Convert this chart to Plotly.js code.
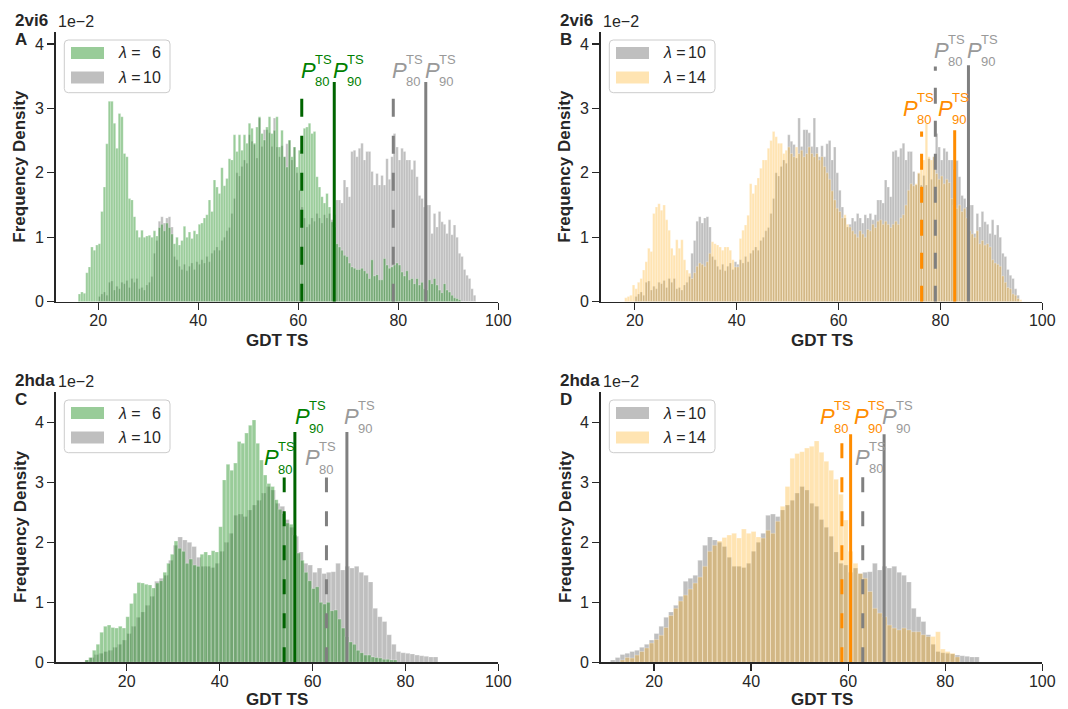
<!DOCTYPE html>
<html>
<head>
<meta charset="utf-8">
<script src="https://cdn.plot.ly/plotly-3.0.1.min.js"></script>
<style>
  html, body { margin: 0; padding: 0; background: #fff; }
  #chart { width: 1068px; height: 709px; }
</style>
</head>
<body>
<div id="chart"></div>
<script>
// GDT TS frequency-density histograms for targets 2vi6 and 2hda at several lambda values.
// Densities are in units of 1e-2.

const binStart2vi6 = 16.0;
const binWidth2vi6 = 0.5;
const density2vi6Lambda6 = [
  0.12,0.15,0.13,0.45,0.54,0.85,0.80,0.88,0.90,1.40,
  1.78,2.45,3.11,3.11,2.77,2.38,2.92,2.87,2.30,2.25,
  1.60,1.58,1.32,1.11,1.00,1.11,1.00,1.02,1.03,1.00,
  1.10,1.02,1.15,1.20,1.10,1.22,1.15,1.05,0.90,1.00,
  0.88,0.95,1.17,1.00,1.08,0.98,1.10,1.05,1.20,1.22,
  1.30,1.35,1.58,1.40,1.89,1.78,1.68,2.08,1.80,1.91,
  2.22,2.20,2.59,2.33,2.59,2.35,2.59,2.46,2.77,2.69,
  2.46,2.71,2.87,2.61,2.51,2.71,2.87,2.61,2.66,2.87,
  2.40,2.66,2.25,2.09,2.51,2.25,2.40,2.09,2.35,2.30,
  2.69,2.71,2.77,2.61,2.64,1.94,1.78,1.63,1.53,1.68,
  1.47,1.24,1.16,0.90,0.85,0.80,0.72,0.70,0.60,0.54,
  0.52,0.50,0.50,0.52,0.48,0.44,0.36,0.65,0.40,0.42,
  0.34,0.34,0.67,0.57,0.52,0.54,0.57,0.60,0.57,0.46,
  0.40,0.48,0.34,0.36,0.28,0.36,0.26,0.30,0.20,0.18,
  0.34,0.28,0.36,0.26,0.18,0.14,0.28,0.18,0.15,0.10,
  0.06,0.05,0.03,0,0,0,0,0,0,0
];
const density2vi6Lambda10 = [
  0,0,0,0,0,0,0,0,0.08,0.12,
  0.15,0.10,0.30,0.32,0.18,0.24,0.20,0.30,0.28,0.33,
  0.22,0.36,0.30,0.36,0.20,0.22,0.18,0.26,0.30,0.39,
  0.75,0.95,1.25,1.32,1.22,1.30,1.32,1.16,0.70,0.65,
  0.55,0.50,0.58,0.48,0.55,0.60,0.50,0.62,0.58,0.65,
  0.60,0.70,0.62,0.75,0.80,0.85,0.80,0.95,1.00,1.10,
  1.15,1.37,1.60,2.00,1.95,2.10,2.20,2.15,2.59,2.49,
  2.44,2.23,2.85,2.41,2.67,2.67,2.62,2.41,2.85,2.40,
  2.25,2.42,2.25,2.45,2.50,2.20,2.40,2.00,1.73,1.47,
  1.30,1.16,1.20,1.30,1.25,1.37,1.30,1.22,1.35,1.30,
  1.37,1.27,1.35,1.58,1.58,1.53,1.89,1.78,1.63,2.33,
  2.35,2.25,2.38,2.46,2.20,2.33,2.33,2.02,1.81,1.99,
  1.81,1.96,1.81,2.22,1.90,2.25,2.61,2.40,2.20,2.38,
  2.33,2.20,2.20,2.05,2.19,1.94,1.65,1.60,1.47,1.50,
  1.50,1.06,1.37,1.16,1.40,1.24,1.20,1.06,1.27,1.04,
  1.19,1.00,0.75,0.70,0.50,0.41,0.36,0.20,0.10,0
];
const density2vi6Lambda14 = [
  0,0,0,0,0.06,0.08,0.10,0.26,0.20,0.30,
  0.36,0.49,0.62,0.83,0.78,1.37,1.47,1.52,1.42,1.50,
  1.27,1.11,0.83,0.72,0.96,0.83,0.96,0.65,0.49,0.44,
  0.36,0.45,0.55,0.60,0.58,0.55,0.62,0.75,0.93,0.90,
  0.88,0.85,0.80,0.85,0.85,0.80,0.65,0.54,0.54,0.98,
  1.11,1.19,1.34,1.83,1.68,1.81,1.92,2.07,2.20,2.20,
  2.38,2.50,2.64,2.56,2.46,2.46,2.30,2.35,2.40,2.30,
  2.25,2.40,2.30,2.35,2.25,2.30,2.40,2.30,2.25,2.30,
  2.20,2.25,2.10,2.00,1.90,1.72,1.58,1.45,1.40,1.30,
  1.35,1.20,1.16,1.10,1.05,1.00,1.10,1.05,1.00,1.12,
  1.10,1.20,1.15,1.25,1.27,1.20,1.25,1.20,1.15,1.20,
  1.25,1.20,1.30,1.35,1.50,1.73,1.83,1.80,1.83,2.00,
  2.10,2.20,2.77,2.25,2.20,2.25,1.99,1.90,1.95,1.83,
  1.90,1.85,1.60,1.50,1.45,1.50,1.40,1.45,1.30,1.10,
  1.05,1.00,1.10,0.90,0.95,0.88,0.90,0.85,0.65,0.60,
  0.58,0.55,0.40,0.30,0.22,0.20,0.12,0.10,0.05,0.03
];

const binStart2hdaLambda6 = 11.0;
const binWidth2hdaLambda6 = 0.8;
const density2hdaLambda6 = [
  0.04,0.08,0.20,0.30,0.50,0.60,0.62,0.58,0.57,0.60,
  0.57,0.76,0.98,1.15,1.33,1.32,1.30,1.29,1.24,1.32,
  1.36,1.50,1.65,1.80,2.02,1.90,1.85,1.65,1.72,1.62,
  1.60,1.80,1.84,1.79,1.86,1.84,2.26,3.04,3.30,3.20,
  3.32,3.68,3.65,3.82,3.95,4.04,3.65,3.37,3.12,2.98,
  2.93,2.71,2.55,2.48,2.32,2.30,2.12,1.82,1.70,1.50,
  1.36,1.23,1.26,1.00,0.97,1.00,0.86,0.87,0.72,0.57,
  0.43,0.34,0.30,0.20,0.16,0.12,0.12,0.09,0.08,0.07,
  0.05,0.05,0.04,0.04
];
const binStart2hdaLambda10 = 11.0;
const binWidth2hdaLambda10 = 1.0;
const density2hdaLambda10 = [
  0.04,0.08,0.13,0.15,0.18,0.20,0.25,0.30,0.37,0.48,
  0.60,0.75,0.84,0.95,1.10,1.35,1.40,1.45,1.70,1.95,
  2.09,2.04,2.00,1.93,1.75,1.60,1.60,1.58,1.65,1.85,
  2.00,2.15,2.45,2.47,2.43,2.54,2.62,2.70,2.82,2.93,
  2.87,2.65,2.60,2.38,2.25,2.10,1.84,1.65,1.62,1.50,
  1.57,1.48,1.50,1.51,1.65,1.54,1.60,1.57,1.60,1.50,
  1.45,1.34,0.90,0.76,0.68,0.46,0.30,0.18,0.16,0.15,
  0.14,0.12,0.11,0.10,0.09,0.09
];
const binStart2hdaLambda14 = 13.0;
const binWidth2hdaLambda14 = 1.0;
const density2hdaLambda14 = [
  0.04,0.08,0.07,0.12,0.18,0.24,0.32,0.38,0.45,0.58,
  0.78,0.90,1.02,1.12,1.22,1.32,1.42,1.60,1.85,1.95,
  2.02,2.08,2.12,2.15,2.07,2.22,2.15,2.18,2.09,2.07,
  2.20,2.15,2.35,2.60,2.93,3.40,3.48,3.51,3.57,3.60,
  3.69,3.50,3.35,3.20,3.05,2.80,2.37,1.85,1.65,1.48,
  1.40,1.18,0.90,0.82,0.76,0.62,0.57,0.54,0.57,0.54,
  0.51,0.51,0.46,0.43,0.43,0.51,0.22,0.18,0.15,0.09
];

// 80th and 90th percentiles of GDT TS
const pct2vi6Lambda6  = [60.7, 67.2];
const pct2vi6Lambda10 = [79.0, 85.5];
const pct2vi6Lambda14 = [76.3, 82.8];
const pct2hdaLambda6  = [53.9, 56.2];
const pct2hdaLambda10 = [63.0, 67.4];
const pct2hdaLambda14 = [58.7, 60.5];

const xTickVals = [20, 40, 60, 80, 100];
const yTickVals = [0, 1, 2, 3, 4];
const percentileNames = ['80', '90'];

// ---------------------------------------------------------------------------
const W = 1068, H = 709;
const FONT = 'Liberation Sans, Arial, Helvetica, sans-serif';
const INK = '#262626';

const style = {
  6:  { fill: 'rgba(0,128,0,0.40)',     line: '#006400', text: '#008000', label: '6'  },
  10: { fill: 'rgba(128,128,128,0.50)', line: '#808080', text: '#999999', label: '10' },
  14: { fill: 'rgba(255,165,0,0.30)',   line: '#ff8c00', text: '#ff8c00', label: '14' }
};

const series = {
  '2vi6': {
    6:  { start: binStart2vi6, width: binWidth2vi6, dens: density2vi6Lambda6,  pct: pct2vi6Lambda6 },
    10: { start: binStart2vi6, width: binWidth2vi6, dens: density2vi6Lambda10, pct: pct2vi6Lambda10 },
    14: { start: binStart2vi6, width: binWidth2vi6, dens: density2vi6Lambda14, pct: pct2vi6Lambda14 }
  },
  '2hda': {
    6:  { start: binStart2hdaLambda6,  width: binWidth2hdaLambda6,  dens: density2hdaLambda6,  pct: pct2hdaLambda6 },
    10: { start: binStart2hdaLambda10, width: binWidth2hdaLambda10, dens: density2hdaLambda10, pct: pct2hdaLambda10 },
    14: { start: binStart2hdaLambda14, width: binWidth2hdaLambda14, dens: density2hdaLambda14, pct: pct2hdaLambda14 }
  }
};

// Panel geometry in pixels; percentile marker heights and label offsets per panel.
// "legend" lists the legend order, "draw" the painting order of the histograms.
const panels = [
  { tag: 'A', target: '2vi6', ax: '', box: [55.7, 31.7, 498.3, 301.7], xr: [11.5, 100], yr: [0, 4.19],
    legend: [6, 10], draw: [10, 6], dash: '18px,19px', titleDy: 38,
    marks: { 6: { h: [3.30, 3.41], ly: [3.595, 3.595], dx: [-2, -2] },
             10: { h: [3.30, 3.41], ly: [3.595, 3.595], dx: [-2, -2] } } },
  { tag: 'B', target: '2vi6', ax: '2', box: [600.7, 31.7, 1042.3, 301.7], xr: [13.3, 100], yr: [0, 4.19],
    legend: [10, 14], draw: [10, 14], dash: '16px,17px', titleDy: 38,
    marks: { 10: { h: [3.65, 3.67], ly: [3.90, 3.90], dx: [-2, -2] },
             14: { h: [2.64, 2.66], ly: [3.00, 3.00], dx: [-20, -18] } } },
  { tag: 'C', target: '2hda', ax: '3', box: [55.7, 391.7, 498.3, 662.3], xr: [4.7, 100], yr: [0, 4.51],
    legend: [6, 10], draw: [10, 6], dash: '15px,19px', titleDy: 37,
    marks: { 6: { h: [3.08, 3.84], ly: [3.41, 4.09], dx: [-21, -1] },
             10: { h: [3.08, 3.84], ly: [3.41, 4.09], dx: [-22, -4] } } },
  { tag: 'D', target: '2hda', ax: '4', box: [600.7, 391.7, 1042.3, 662.3], xr: [9.0, 100], yr: [0, 4.51],
    legend: [10, 14], draw: [10, 14], dash: '15px,19px', titleDy: 37,
    marks: { 10: { h: [3.15, 3.80], ly: [3.42, 4.09], dx: [-9, -3] },
             14: { h: [3.79, 3.80], ly: [4.09, 4.09], dx: [-23, 2] } } }
];

const px = x => x / W;
const py = y => 1 - y / H;

const traces = [];
const annotations = [];
const shapes = [];
const layout = {
  width: W, height: H,
  margin: { l: 0, r: 0, t: 0, b: 0 },
  paper_bgcolor: '#fff', plot_bgcolor: '#fff',
  barmode: 'overlay', bargap: 0,
  showlegend: false,
  font: { family: FONT, color: INK, size: 16 },
  annotations, shapes
};

function text(x, y, t, opts) {
  annotations.push(Object.assign({
    xref: 'paper', yref: 'paper', x: px(x), y: py(y), text: t, showarrow: false, borderpad: 0,
    xanchor: 'center', yanchor: 'middle', font: { family: FONT, size: 16, color: INK }
  }, opts || {}));
}

panels.forEach(p => {
  const xa = 'x' + p.ax, ya = 'y' + p.ax;
  const [l, t, r, b] = p.box;
  const axCommon = {
    showgrid: false, zeroline: false, showline: true, linecolor: INK, linewidth: 1.5,
    ticks: 'outside', ticklen: 7, tickwidth: 1.3, tickcolor: INK,
    tickfont: { family: FONT, size: 16, color: INK }, fixedrange: true
  };
  layout['xaxis' + p.ax] = Object.assign({}, axCommon, {
    domain: [px(l), px(r)], range: p.xr, anchor: ya, tickvals: xTickVals, ticklabelstandoff: -3
  });
  layout['yaxis' + p.ax] = Object.assign({}, axCommon, {
    domain: [py(b), py(t)], range: p.yr, anchor: xa, tickvals: yTickVals
  });

  // histograms
  p.draw.forEach(lam => {
    const s = series[p.target][lam];
    traces.push({
      type: 'bar', xaxis: xa, yaxis: ya,
      x: s.dens.map((_, i) => s.start + s.width * (i + 0.5)),
      y: s.dens, width: s.width,
      marker: { color: style[lam].fill, line: { color: 'rgba(255,255,255,0.55)', width: 0.5 } },
      hoverinfo: 'skip'
    });
  });

  // percentile markers and labels
  p.legend.forEach(lam => {
    const s = series[p.target][lam];
    const m = p.marks[lam];
    s.pct.forEach((v, k) => {
      traces.push({
        type: 'scatter', mode: 'lines', xaxis: xa, yaxis: ya,
        x: [v, v], y: [0, m.h[k]],
        line: { color: style[lam].line, width: 3, dash: k === 0 ? p.dash : 'solid' },
        hoverinfo: 'skip'
      });
      const base = { xref: xa, yref: ya, x: v, y: m.ly[k], showarrow: false,
                     xanchor: 'left', yanchor: 'middle', borderpad: 0 };
      annotations.push(Object.assign({}, base, {
        text: '<i>P</i>', xshift: m.dx[k],
        font: { family: FONT, size: 22, color: style[lam].text }
      }));
      annotations.push(Object.assign({}, base, {
        text: 'TS', xshift: m.dx[k] + 14, yshift: 11,
        font: { family: FONT, size: 13, color: style[lam].text }
      }));
      annotations.push(Object.assign({}, base, {
        text: percentileNames[k], xshift: m.dx[k] + 14, yshift: -11.5,
        font: { family: FONT, size: 13, color: style[lam].text }
      }));
    });
  });

  // legend
  const lx = l + 8.6, ly = t + 8.3;
  const bw = 105.7, bh = 52.7, rr = 4;
  const x0 = lx, x1 = lx + bw, y0 = ly, y1 = ly + bh;
  const rx = rr / W, ry = rr / H;
  shapes.push({
    type: 'path', xref: 'paper', yref: 'paper',
    path: `M ${px(x0) + rx} ${py(y0)} L ${px(x1) - rx} ${py(y0)} Q ${px(x1)} ${py(y0)} ${px(x1)} ${py(y0) - ry} ` +
          `L ${px(x1)} ${py(y1) + ry} Q ${px(x1)} ${py(y1)} ${px(x1) - rx} ${py(y1)} ` +
          `L ${px(x0) + rx} ${py(y1)} Q ${px(x0)} ${py(y1)} ${px(x0)} ${py(y1) + ry} ` +
          `L ${px(x0)} ${py(y0) - ry} Q ${px(x0)} ${py(y0)} ${px(x0) + rx} ${py(y0)} Z`,
    fillcolor: 'rgba(255,255,255,0.8)', line: { color: '#cccccc', width: 1 }, layer: 'above'
  });
  p.legend.forEach((lam, k) => {
    const cy = ly + 13 + k * 24.5;
    shapes.push({
      type: 'rect', xref: 'paper', yref: 'paper', layer: 'above',
      x0: px(lx + 6.7), x1: px(lx + 39.7), y0: py(cy - 6), y1: py(cy + 6),
      fillcolor: style[lam].fill, line: { width: 0 }
    });
    text(lx + 52.5, cy, '<i>λ</i> =', { xanchor: 'left', font: { family: FONT, size: 16, color: INK } });
    text(lx + 97.7, cy, style[lam].label, { xanchor: 'right', font: { family: FONT, size: 16, color: INK } });
  });

  // axis titles and panel captions
  text(l - 35.7, (t + b) / 2, '<b>Frequency Density</b>', { textangle: -90, font: { family: FONT, size: 17, color: INK } });
  text((l + r) / 2, b + p.titleDy, '<b>GDT TS</b>', { height: 16, font: { family: FONT, size: 17, color: INK } });
  text(l - 42, t - 11, '<b>' + p.target + '</b>', { xanchor: 'left', font: { family: FONT, size: 17, color: INK } });
  text(l + 1.5, t - 10, '1e\u22122', { xanchor: 'left', font: { family: FONT, size: 16, color: INK } });
  text(l - 42, t + 7.5, '<b>' + p.tag + '</b>', { xanchor: 'left', font: { family: FONT, size: 17, color: INK } });
});

Plotly.newPlot('chart', traces, layout, { staticPlot: true, displayModeBar: false });
</script>
</body>
</html>
